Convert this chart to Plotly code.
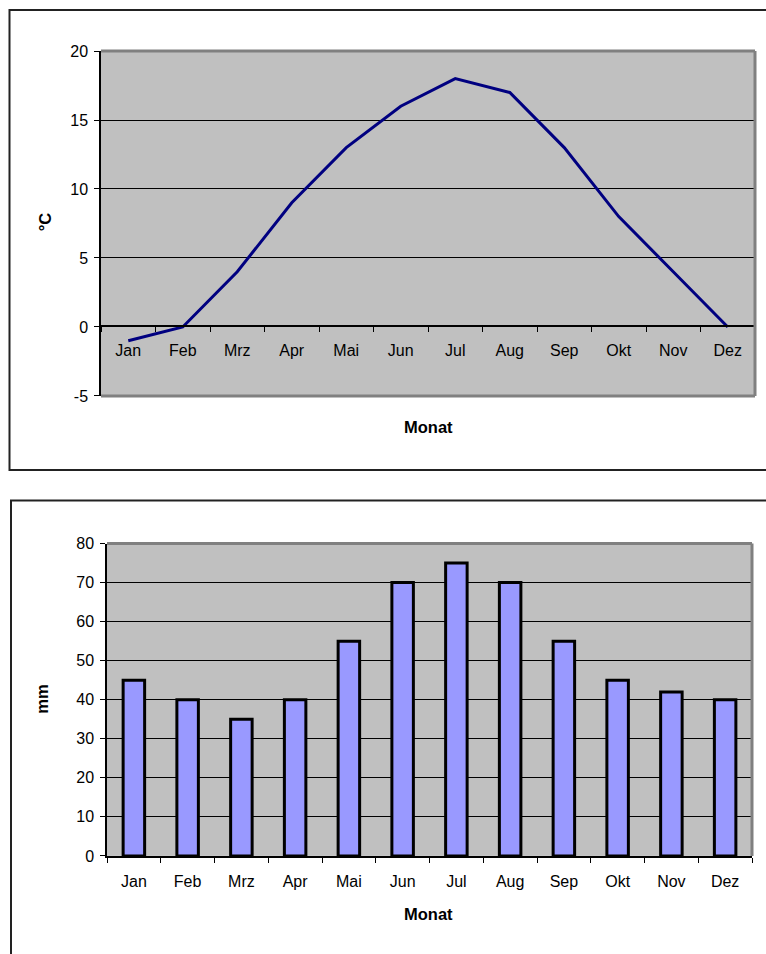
import plotly.graph_objects as go

months = ["Jan", "Feb", "Mrz", "Apr", "Mai", "Jun", "Jul", "Aug", "Sep", "Okt", "Nov", "Dez"]
temp_c = [-1, 0, 4, 9, 13, 16, 18, 17, 13, 8, 4, 0]
precip_mm = [45, 40, 35, 40, 55, 70, 75, 70, 55, 45, 42, 40]
temp_ticks = [-5, 0, 5, 10, 15, 20]
precip_ticks = [0, 10, 20, 30, 40, 50, 60, 70, 80]

W, H = 766, 954
# observed vertical mapping of the paper area in the rendered page
TOP_OFF, PAPER_H = 9.0, 936.0


def px(x):
    return x / W


def py(y):
    return 1 - (y - TOP_OFF) / PAPER_H


FONT = "Liberation Sans, Arial, sans-serif"
FS = 16
FS_TITLE = 16.5

fig = go.Figure()
fig.add_trace(go.Scatter(
    x=months, y=temp_c, mode="lines",
    line=dict(color="#000080", width=3),
    xaxis="x", yaxis="y", cliponaxis=False, showlegend=False,
))
fig.add_trace(go.Bar(
    x=months, y=precip_mm,
    marker=dict(color="#9999FF", line=dict(color="black", width=3)),
    xaxis="x2", yaxis="y2", showlegend=False,
))

axis_common = dict(
    showline=True, linecolor="black", linewidth=1.5,
    ticks="outside", ticklen=5, tickcolor="black", tickwidth=1,
    tickfont=dict(family=FONT, size=FS, color="black"),
)

fig.update_layout(
    width=W, height=H,
    margin=dict(l=0, r=0, t=0, b=0),
    paper_bgcolor="white",
    plot_bgcolor="#C0C0C0",
    font=dict(family=FONT, size=FS, color="black"),
    showlegend=False,
    bargap=0.6,
    xaxis=dict(
        domain=[px(101), px(755)], anchor="free", position=py(327),
        type="category", categoryorder="array", categoryarray=months,
        range=[-0.5, 11.5], tickson="boundaries", showgrid=False,
        ticklabelstandoff=10,
        **axis_common,
    ),
    yaxis=dict(
        domain=[py(396.5), py(52)], anchor="x",
        range=[-5, 20], tickvals=temp_ticks, ticktext=[str(v) for v in temp_ticks],
        showgrid=True, gridcolor="black", gridwidth=1, zeroline=False,
        ticklabelstandoff=3,
        **axis_common,
    ),
    xaxis2=dict(
        domain=[px(107), px(752)], anchor="y2",
        type="category", categoryorder="array", categoryarray=months,
        range=[-0.5, 11.5], tickson="boundaries", showgrid=False,
        ticklabelstandoff=10,
        **axis_common,
    ),
    yaxis2=dict(
        domain=[py(856), py(544)], anchor="x2",
        range=[0, 80], tickvals=precip_ticks, ticktext=[str(v) for v in precip_ticks],
        showgrid=True, gridcolor="black", gridwidth=1, zeroline=False,
        ticklabelstandoff=3,
        **axis_common,
    ),
)

gray = dict(color="#808080", width=3)
shapes = [
    # top chart plot-area border (top, right, bottom)
    dict(type="line", xref="x domain", yref="y domain", x0=0, x1=1, y0=1, y1=1, line=gray, layer="above"),
    dict(type="line", xref="x domain", yref="y domain", x0=1, x1=1, y0=0, y1=1, line=gray, layer="above"),
    dict(type="line", xref="x domain", yref="y domain", x0=0, x1=1, y0=0, y1=0, line=gray, layer="above"),
    # bottom chart plot-area border (top, right)
    dict(type="line", xref="x2 domain", yref="y2 domain", x0=0, x1=1, y0=1, y1=1, line=gray, layer="above"),
    dict(type="line", xref="x2 domain", yref="y2 domain", x0=1, x1=1, y0=0, y1=1, line=gray, layer="above"),
    # outer chart frames
    dict(type="rect", xref="paper", yref="paper", x0=px(9.5), x1=1.02, y0=py(470.5), y1=py(11),
         line=dict(color="#222222", width=2), fillcolor="rgba(0,0,0,0)", layer="below"),
    dict(type="rect", xref="paper", yref="paper", x0=px(11), x1=1.02, y0=-0.05, y1=py(501),
         line=dict(color="#222222", width=2), fillcolor="rgba(0,0,0,0)", layer="below"),
]
fig.update_layout(shapes=shapes)

bold = dict(family=FONT, size=FS_TITLE, color="black", weight="bold")
annotations = [
    dict(text="°C", x=px(45), y=py(223), xref="paper", yref="paper", textangle=-90,
         showarrow=False, font=bold, xanchor="center", yanchor="middle"),
    dict(text="Monat", x=px(428), y=py(428), xref="paper", yref="paper",
         showarrow=False, font=bold, xanchor="center", yanchor="middle"),
    dict(text="mm", x=px(42), y=py(700), xref="paper", yref="paper", textangle=-90,
         showarrow=False, font=bold, xanchor="center", yanchor="middle"),
    dict(text="Monat", x=px(428), y=py(914), xref="paper", yref="paper",
         showarrow=False, font=bold, xanchor="center", yanchor="middle"),
]
fig.update_layout(annotations=annotations)

post = (
    "document.documentElement.style.margin='0';"
    "document.documentElement.style.padding='0';"
    "document.documentElement.style.overflow='hidden';"
    "document.body.style.margin='0';"
    "document.body.style.padding='0';"
    "document.body.style.overflow='hidden';"
    "var gd=document.getElementById('{plot_id}');"
    "gd.style.position='absolute';gd.style.top='0px';gd.style.left='0px';"
)

fig.write_html("out.html", post_script=post, config={"displayModeBar": False})
